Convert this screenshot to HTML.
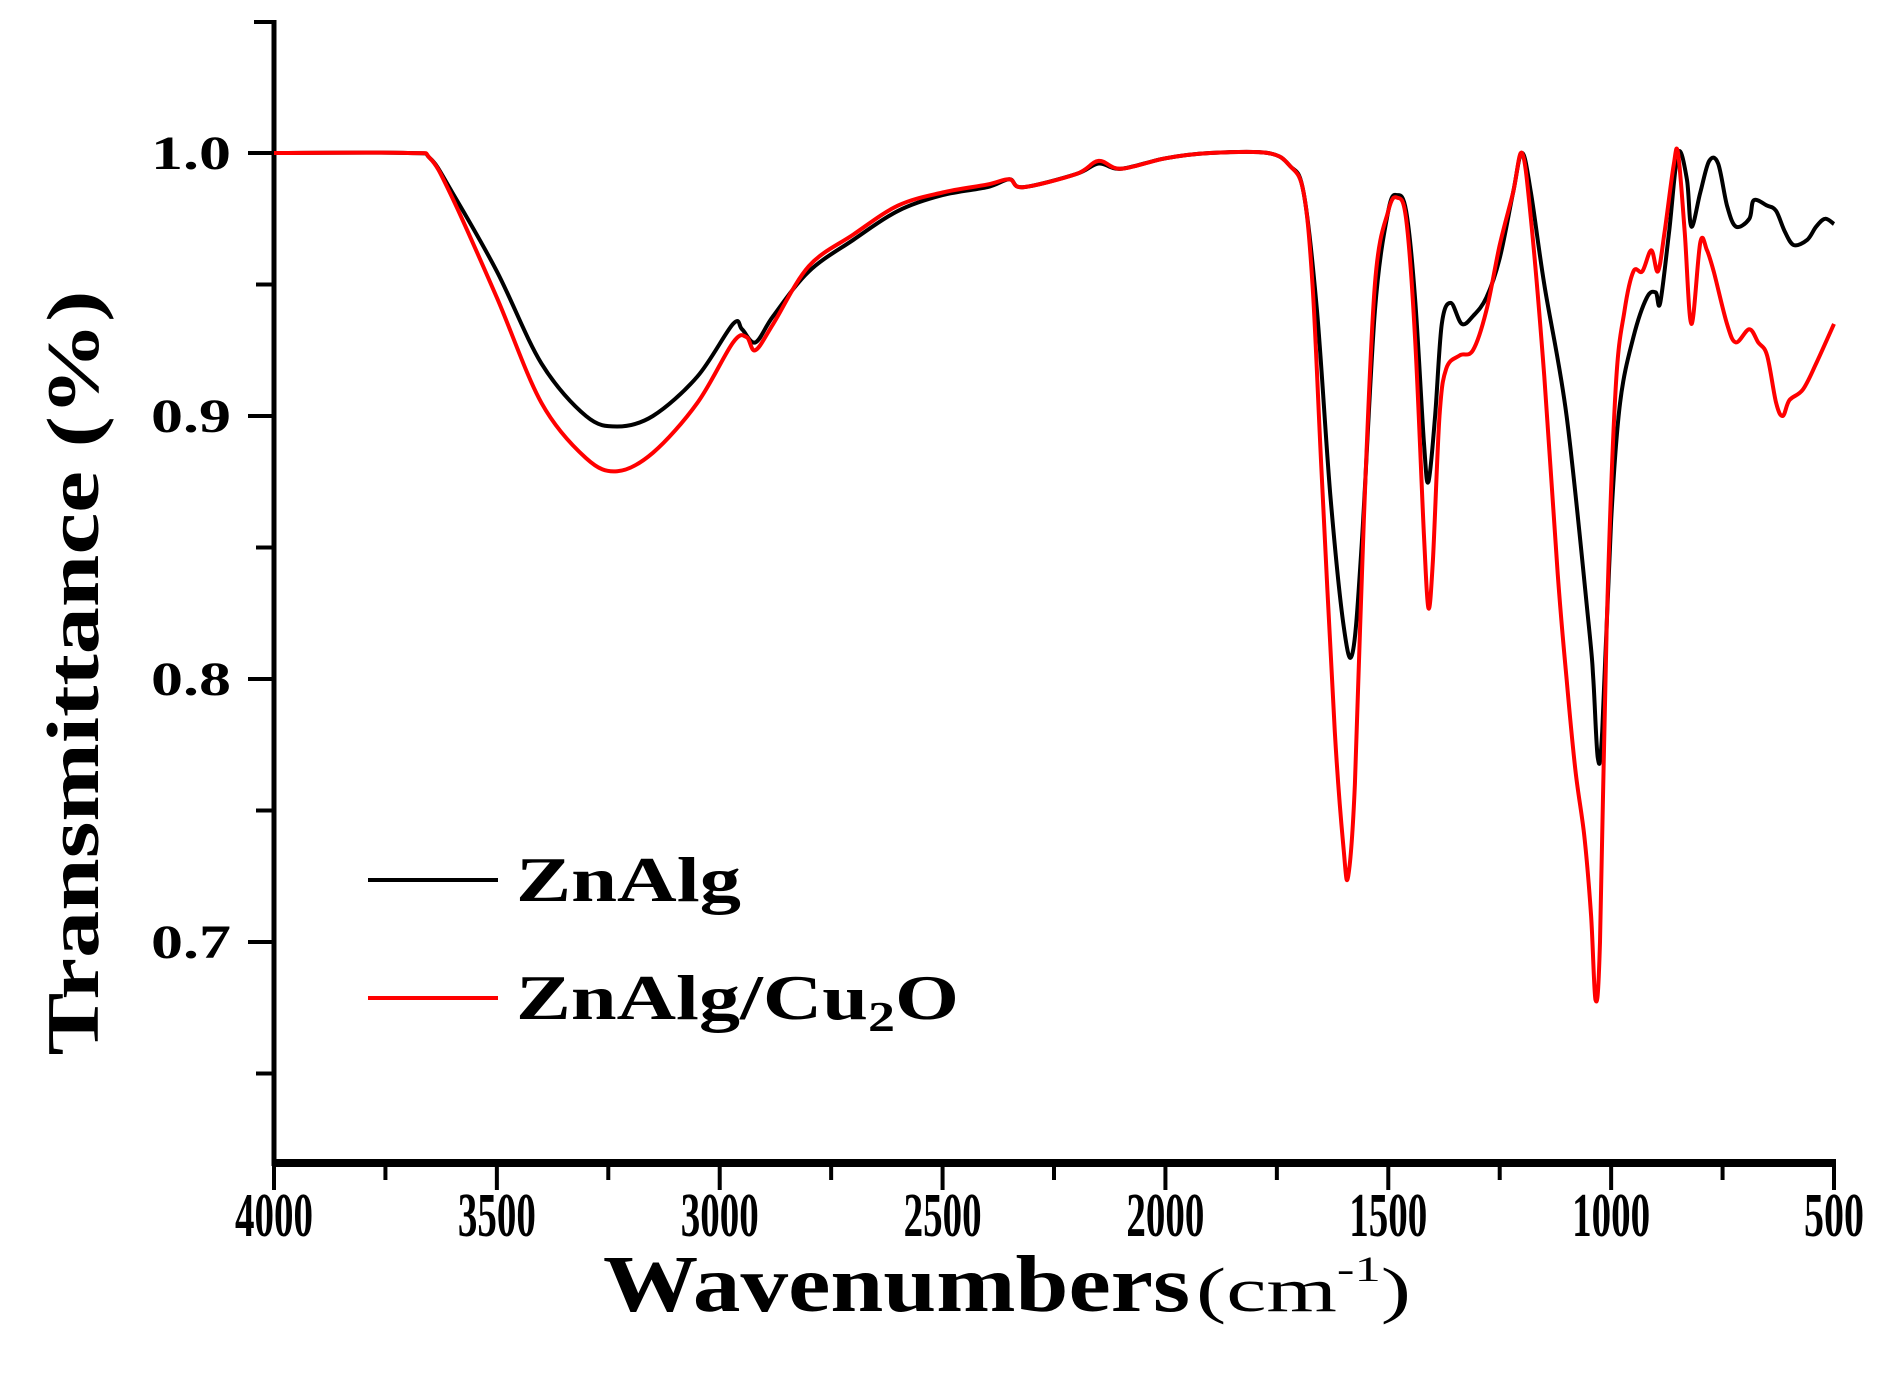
<!DOCTYPE html>
<html><head><meta charset="utf-8"><style>
html,body{margin:0;padding:0;background:#fff;}
svg{display:block;}
text{font-family:"Liberation Serif",serif;font-weight:bold;fill:#000;}
</style></head><body>
<svg id="chart" width="1904" height="1383" viewBox="0 0 1904 1383" xmlns="http://www.w3.org/2000/svg">
<g id="axes"></g>
<g id="plot"></g>
<text transform="translate(98,673) rotate(-90)" text-anchor="middle" font-size="74" textLength="765" lengthAdjust="spacingAndGlyphs">Transmittance (%)</text>
<text x="603" y="1311" font-size="80" textLength="587" lengthAdjust="spacingAndGlyphs">Wavenumbers</text>
<text x="1196" y="1311" font-size="62" style="font-weight:normal" textLength="215" lengthAdjust="spacingAndGlyphs">(cm<tspan font-size="36" dy="-30">-1</tspan><tspan dy="30">)</tspan></text>
<g>
<line x1="368" y1="880" x2="498" y2="880" stroke="#000" stroke-width="4"/>
<text x="516" y="901" font-size="64" textLength="225" lengthAdjust="spacingAndGlyphs">ZnAlg</text>
<line x1="368" y1="998" x2="498" y2="998" stroke="#f00" stroke-width="4"/>
<text x="516" y="1019" font-size="64" textLength="443" lengthAdjust="spacingAndGlyphs">ZnAlg/Cu<tspan font-size="42" dy="12">2</tspan><tspan dy="-12">O</tspan></text>
</g>
</svg>
<script>
const xTicks = [4000,3500,3000,2500,2000,1500,1000,500];
const yTicks = [1.0,0.9,0.8,0.7];
const yTickLabels = ["1.0","0.9","0.8","0.7"];
const yMinorTicks = [0.95,0.85,0.75,0.65];
const znAlgX = [4000,3700,3650,3600,3500,3400,3300,3230,3150,3050,2970,2950,2920,2880,2800,2700,2600,2500,2400,2350,2320,2200,2150,2100,2000,1900,1770,1720,1690,1660,1630,1600,1580,1560,1530,1500,1480,1460,1440,1420,1410,1395,1380,1360,1335,1310,1280,1250,1220,1200,1180,1150,1100,1050,1040,1030,1020,1000,980,950,920,900,890,870,850,830,820,800,780,760,740,720,690,680,650,630,610,590,560,540,520,500];
const znAlgY = [1.0,1.0,0.998,0.985,0.955,0.92,0.9,0.896,0.9,0.915,0.935,0.933,0.928,0.938,0.955,0.967,0.978,0.984,0.987,0.99,0.987,0.992,0.996,0.994,0.998,1.0,1.0,0.995,0.985,0.94,0.87,0.82,0.81,0.85,0.94,0.978,0.984,0.978,0.945,0.89,0.875,0.9,0.935,0.943,0.935,0.938,0.945,0.96,0.985,1.0,0.985,0.95,0.9,0.82,0.8,0.77,0.78,0.86,0.905,0.93,0.945,0.947,0.943,0.97,1.0,0.99,0.972,0.985,0.997,0.996,0.98,0.972,0.975,0.982,0.98,0.978,0.97,0.965,0.967,0.972,0.975,0.973];
const cuX = [4000,3700,3650,3600,3500,3400,3300,3230,3150,3050,2970,2940,2920,2880,2800,2700,2600,2500,2400,2350,2320,2200,2150,2100,2000,1900,1770,1720,1690,1670,1650,1620,1600,1590,1575,1555,1530,1500,1480,1460,1440,1420,1410,1400,1385,1370,1340,1310,1280,1250,1220,1200,1180,1150,1120,1100,1080,1060,1045,1035,1025,1010,990,970,950,930,910,895,880,860,850,835,820,800,785,770,740,720,690,670,650,630,615,600,570,540,500];
const cuY = [1.0,1.0,0.998,0.983,0.945,0.905,0.884,0.879,0.886,0.905,0.928,0.93,0.925,0.935,0.957,0.969,0.98,0.985,0.988,0.99,0.987,0.992,0.997,0.994,0.998,1.0,1.0,0.995,0.985,0.95,0.88,0.78,0.735,0.725,0.76,0.86,0.95,0.978,0.983,0.975,0.93,0.855,0.827,0.845,0.9,0.918,0.923,0.925,0.94,0.965,0.985,1.0,0.975,0.915,0.84,0.8,0.765,0.74,0.71,0.678,0.7,0.82,0.91,0.94,0.955,0.955,0.963,0.955,0.97,0.995,1.0,0.97,0.935,0.966,0.963,0.955,0.935,0.928,0.933,0.928,0.923,0.905,0.9,0.906,0.91,0.92,0.935];

const NS = "http://www.w3.org/2000/svg";
const X0 = 274, X1 = 1834;
function xs(w){ return X0 + (4000 - w) * (X1 - X0) / 3500; }
function ys(v){ return 153 + (1.0 - v) * 2630; }
function mk(tag, attrs, parent){
  const e = document.createElementNS(NS, tag);
  for (const k in attrs) e.setAttribute(k, attrs[k]);
  parent.appendChild(e);
  return e;
}
const axes = document.getElementById('axes');
const plot = document.getElementById('plot');
let yAxis = mk('line', {x1:X0, y1:20, x2:X0, y2:1166, stroke:'#000','stroke-width':5}, axes);


let xAxis = mk('line', {x1:X0-2, y1:1163, x2:X1+2, y2:1163, stroke:'#000','stroke-width':8}, axes);


let topTick = mk('line', {x1:X0-20, y1:22, x2:X0, y2:22, stroke:'#000','stroke-width':4}, axes);


yTicks.forEach((v,i)=>{
  const t = mk('line', {x1:X0-26, y1:ys(v), x2:X0, y2:ys(v), stroke:'#000','stroke-width':4}, axes);
  
  
  const l = mk('text', {x:231, y:ys(v)+16, 'text-anchor':'end','font-size':48, textLength:80, lengthAdjust:'spacingAndGlyphs'}, axes);
  l.textContent = yTickLabels[i];
  
  
});
yMinorTicks.forEach(v=>{
  const t = mk('line', {x1:X0-18, y1:ys(v), x2:X0, y2:ys(v), stroke:'#000','stroke-width':4}, axes);
  
  
});
xTicks.forEach((w,i)=>{
  const t = mk('line', {x1:xs(w), y1:1163, x2:xs(w), y2:1190, stroke:'#000','stroke-width':4}, axes);
  
  
  const l = mk('text', {x:xs(w), y:1236, 'text-anchor':'middle','font-size':62, textLength:w>=1000?78:60, lengthAdjust:'spacingAndGlyphs'}, axes);
  l.textContent = String(w);
  
  
  if (i < xTicks.length-1) {
    const m = mk('line', {x1:xs(w-250), y1:1163, x2:xs(w-250), y2:1180, stroke:'#000','stroke-width':4}, axes);
    
    
  }
});
function pathFor(X, Y){
  const p = X.map((w,i)=>[xs(w), ys(Y[i])]);
  let d = 'M' + p[0][0].toFixed(1) + ',' + p[0][1].toFixed(1);
  for (let i=0;i<p.length-1;i++){
    const p0 = p[Math.max(0,i-1)], p1 = p[i], p2 = p[i+1], p3 = p[Math.min(p.length-1,i+2)];
    const c1x = p1[0] + (p2[0]-p0[0])/6, c1y = p1[1] + (p2[1]-p0[1])/6;
    const c2x = p2[0] - (p3[0]-p1[0])/6, c2y = p2[1] - (p3[1]-p1[1])/6;
    d += ' C' + c1x.toFixed(1)+','+c1y.toFixed(1)+' '+c2x.toFixed(1)+','+c2y.toFixed(1)+' '+p2[0].toFixed(1)+','+p2[1].toFixed(1);
  }
  return d;
}
const s1 = mk('path', {d:pathFor(znAlgX, znAlgY), fill:'none', stroke:'#000','stroke-width':4,'stroke-linejoin':'round'}, plot);


const s2 = mk('path', {d:pathFor(cuX, cuY), fill:'none', stroke:'#f00','stroke-width':4,'stroke-linejoin':'round'}, plot);


</script>
</body></html>
